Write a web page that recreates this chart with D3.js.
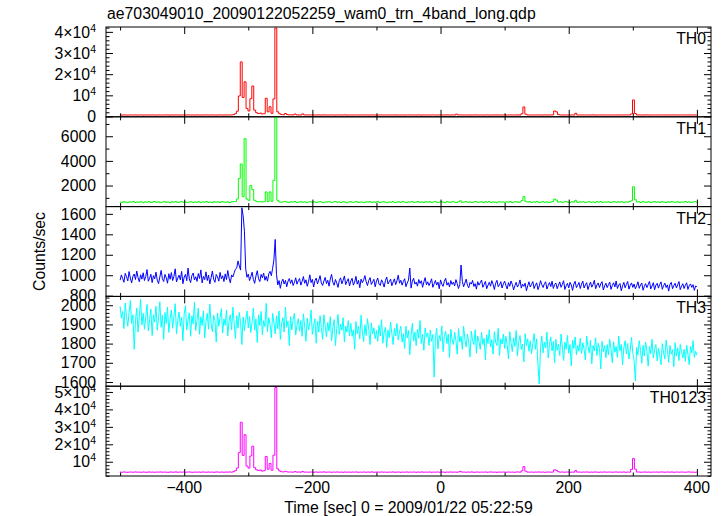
<!DOCTYPE html>
<html><head><meta charset="utf-8">
<script src="https://cdn.jsdelivr.net/npm/d3@7"></script>
<style>
body{margin:0;background:#fff}
text{font-family:"Liberation Sans",Arial,Helvetica,sans-serif;font-size:15.8px;fill:#000}
</style>
</head><body>
<svg id="chart" width="723" height="516"></svg>
<script>
// ---------------- DATA ----------------
const TITLE = "ae703049010_20090122052259_wam0_trn_4band_long.qdp";
const X_LABEL = "Time [sec] 0 = 2009/01/22 05:22:59";
const Y_LABEL = "Counts/sec";
const PANEL_NAMES = ["TH0", "TH1", "TH2", "TH3", "TH0123"];
const TIME_START = -500;     // first bin time (s)
const SPIKY_BIN = 3;         // bin width (s) of TH0, TH1, TH0123 arrays
const NOISE_BIN = 2;         // bin width (s) of TH2, TH3 arrays
const X_DOMAIN = [-522, 422];
const X_MAJOR = [-400, -200, 0, 200, 400];
const X_MINOR_STEP = 100;

const th0 = [
720,680,745,700,665,730,710,690,755,675,705,740,660,715,695,735,680,725,700,670,
740,695,715,680,760,705,670,725,690,745,710,665,730,700,685,750,720,690,710,675,
735,700,680,725,695,760,710,685,740,700,670,720,745,690,715,680,730,705,760,850,
1300,2500,9700,25800,9000,16400,3800,2600,8400,14400,3000,1800,1400,1600,1200,1300,8600,2200,4600,1500,
8300,41800,2200,1300,950,820,1400,900,740,800,720,1150,760,700,735,1200,720,760,700,745,
700,725,690,740,710,680,755,700,720,690,735,705,670,725,745,690,710,760,685,720,
705,690,740,715,680,730,700,750,695,720,685,740,710,675,725,700,745,690,715,730,
690,720,705,745,680,715,700,735,670,725,710,760,695,720,690,740,705,680,730,700,
725,690,710,750,700,680,735,705,720,695,745,715,690,730,700,1100,720,760,690,715,
700,740,685,720,710,755,690,705,730,680,715,745,700,690,725,710,740,685,720,700,
730,695,715,750,690,720,705,740,680,1300,4500,1100,720,700,745,690,715,735,700,725,
690,740,710,700,725,760,2600,2200,900,715,690,745,705,720,680,735,700,1500,720,710,
745,700,715,690,730,705,760,685,720,700,740,710,695,725,705,690,745,715,700,730,
700,725,690,740,710,720,1200,7800,1400,705,740,690,720,700,755,715,690,730,705,725,
710,690,745,700,720,735,695,715,750,700,685,730,710,740,695,720,705,690,735,715,
700];

const th1 = [
660,630,690,645,610,675,655,700,620,665,640,685,605,670,650,695,625,660,710,640,
675,615,655,690,635,665,600,680,650,705,625,660,690,640,670,615,655,685,630,665,
645,690,620,670,655,700,630,660,615,685,650,675,625,695,660,640,680,610,665,700,
700,900,2560,3750,1100,5800,900,800,2000,1670,800,720,680,700,660,690,1480,700,1480,720,
2400,7560,800,660,640,690,700,650,620,680,660,700,630,655,690,640,675,615,665,690,
640,680,620,665,700,645,610,675,655,690,630,660,705,640,670,620,685,650,600,665,
690,635,660,700,625,670,645,610,680,655,695,630,665,640,700,620,660,685,645,610,
670,645,695,620,660,680,635,705,650,615,675,660,690,630,655,700,640,670,625,685,
650,690,630,665,700,620,655,680,645,610,690,660,635,700,650,625,675,760,640,665,
695,640,670,625,660,705,635,655,690,620,680,650,700,630,665,645,610,685,655,670,
630,675,650,700,620,665,690,640,660,780,1100,720,655,690,630,670,645,700,615,660,
685,640,670,625,660,700,900,820,650,690,635,665,705,640,620,680,655,800,630,670,
650,695,625,660,685,640,670,610,690,655,700,630,665,645,680,620,660,700,640,675,
655,690,630,670,645,700,760,1900,850,660,680,625,695,650,640,685,620,665,700,645,
670,630,690,655,620,680,645,700,660,635,690,615,665,650,700,640,675,625,660,690,
650];

const th2 = [
952,1003,968,931,1018,985,944,1036,972,925,990,1012,958,1041,976,936,1005,962,1024,948,
987,1055,941,970,1010,928,996,965,1030,952,918,983,1047,966,939,1008,975,922,1015,960,
1026,948,990,1063,935,972,1001,955,1038,917,982,1009,946,1070,963,928,997,1021,954,985,
940,1016,968,1052,925,989,957,1033,948,1002,915,976,1041,960,931,1007,984,942,1028,966,
995,938,1013,957,1046,972,926,1003,983,1024,1058,1072,1140,1090,1050,1660,1580,1430,1060,980,
1012,947,985,1030,958,921,993,1044,966,938,1008,975,1020,951,989,942,1015,1038,996,1068,
1150,1350,1010,905,948,872,935,962,914,950,887,941,968,920,955,899,930,975,912,946,
968,903,940,987,921,955,892,937,1004,928,960,885,947,972,915,952,996,924,900,943,
979,918,951,893,964,1008,930,902,958,925,881,947,974,916,951,993,908,940,966,895,
944,970,903,932,989,913,950,878,962,927,955,996,936,899,948,977,910,935,960,887,
942,972,913,900,955,926,884,947,983,915,938,962,897,933,965,908,946,1001,922,951,
903,940,966,888,924,952,1070,874,942,970,913,932,893,958,920,946,882,934,977,906,
936,899,927,965,882,916,949,904,932,868,954,913,891,942,970,903,928,886,948,910,
932,896,957,918,870,909,1100,940,887,924,962,901,878,930,913,950,890,918,864,937,
903,927,953,882,910,940,868,901,931,893,947,912,860,922,950,888,906,937,875,916,
942,900,866,928,892,944,910,856,898,931,884,909,954,874,913,891,922,848,897,936,
885,911,938,870,902,926,859,894,947,908,880,917,936,865,899,928,889,942,871,910,
924,868,903,935,882,910,946,861,897,921,876,930,905,852,914,940,879,902,929,870,
913,942,875,906,927,860,898,934,883,910,951,868,904,925,880,917,937,856,895,922,
879,908,933,862,900,926,885,944,870,903,919,848,896,930,877,911,939,864,902,925,
881,914,867,898,936,872,905,924,853,892,918,879,909,940,866,895,927,858,903,921,
874,910,935,862,897,923,880,906,845,912,930,868,899,921,876,905,938,859,893,917,
870,902,926,861,898,915,881,908,852,895,888];

const th3 = [
1995,1932,1968,1878,2012,1940,1890,1962,2025,1905,1950,1770,1918,1985,1860,1942,2030,1897,1958,1875,
1938,2004,1866,1925,1980,1842,1950,1912,1995,1870,1935,2018,1885,1948,1822,1962,1905,1990,1858,1930,
1975,1880,1942,2008,1852,1920,1965,1890,1938,1815,1955,1998,1872,1925,1960,1838,1945,1902,2015,1868,
1922,1985,1848,1940,1895,1970,1830,1915,1958,1875,2005,1902,1862,1948,1920,1808,1960,1890,1935,1982,
1855,1928,1896,1975,1840,1918,1950,1872,1990,1905,1826,1945,1880,1962,1910,1795,1938,1868,1925,1970,
1882,1942,1858,1915,1985,1870,1928,1805,1950,1895,1968,1845,1920,1888,2010,1862,1935,1900,1830,1958,
1912,1850,1945,1878,1970,1822,1905,1935,1860,1990,1885,1918,1790,1940,1872,1925,1958,1845,1898,1930,
1865,1920,1838,1955,1890,1812,1932,1870,1905,1975,1848,1895,1930,1802,1918,1860,1945,1885,1822,1950,
1892,1835,1910,1865,1940,1815,1885,1925,1790,1878,1952,1848,1902,1870,1935,1808,1890,1860,1920,1842,
1905,1838,1872,1770,1915,1852,1890,1825,1948,1865,1810,1898,1842,1930,1875,1795,1908,1850,1882,1825,
1868,1812,1895,1840,1925,1802,1860,1885,1780,1870,1832,1912,1855,1795,1880,1840,1905,1818,1862,1890,
1808,1852,1775,1890,1830,1868,1742,1845,1905,1815,1860,1790,1875,1828,1920,1800,1848,1765,1882,1835,
1855,1790,1870,1812,1848,1625,1830,1880,1772,1842,1815,1892,1758,1838,1865,1800,1850,1728,1875,1820,
1795,1860,1815,1745,1878,1808,1838,1770,1890,1822,1782,1850,1805,1730,1865,1818,1795,1872,1750,1840,
1812,1770,1858,1795,1828,1715,1845,1800,1872,1782,1820,1745,1862,1808,1790,1880,1738,1825,1798,1850,
1775,1838,1792,1720,1862,1805,1758,1830,1785,1868,1735,1810,1842,1770,1798,1705,1852,1790,1825,1760,
1815,1748,1800,1852,1770,1825,1690,1590,1780,1840,1752,1808,1778,1860,1725,1795,1835,1762,1812,1700,
1822,1765,1798,1738,1850,1782,1712,1808,1770,1842,1750,1795,1685,1818,1775,1835,1742,1790,1760,1828,
1748,1805,1770,1715,1840,1785,1752,1818,1695,1790,1762,1830,1738,1802,1775,1668,1812,1758,1790,1725,
1795,1742,1822,1770,1700,1810,1755,1785,1728,1840,1762,1795,1690,1778,1815,1745,1800,1720,1768,1832,
1750,1712,1605,1780,1740,1815,1765,1698,1792,1735,1808,1760,1682,1785,1748,1822,1725,1770,1795,1710,
1775,1738,1690,1800,1752,1720,1818,1765,1702,1790,1745,1768,1680,1805,1735,1778,1712,1795,1758,1725,
1770,1708,1792,1745,1690,1785,1752,1815,1728,1760,1740];

const th0123 = [
4100,3980,4150,4020,3950,4120,4060,3990,4180,4010,4070,3940,4130,4040,3970,4160,4030,4090,3960,4110,
4050,4170,3990,4080,4020,3930,4140,4060,4000,4190,3960,4100,4040,4120,3980,4070,4150,4010,3950,4090,
4030,4110,3970,4160,4050,3990,4130,4020,4080,3940,4170,4060,4000,4120,3980,4090,4040,4150,4010,4300,
4900,6400,15200,32600,13650,25500,7600,6350,13300,18900,6600,5400,4950,5250,4650,4870,13050,5730,9000,5160,
13760,52550,5900,4760,4300,4150,4500,4200,4080,4130,4020,4350,4060,4110,4000,4400,4050,4100,3990,4140,
4080,4010,4150,3970,4120,4040,4190,3990,4060,4130,3950,4100,4020,4170,4000,4090,3960,4140,4030,4080,
3990,4120,4050,4160,3940,4070,4010,4140,3980,4100,4030,4180,3960,4060,4110,3990,4150,4020,4080,3950,
4100,4030,4170,3980,4060,4120,3950,4090,4010,4150,3990,4080,4040,4130,3970,4110,4020,4160,4000,4070,
4040,4130,3960,4090,4020,4150,3990,4070,4110,3940,4080,4030,4160,4000,4100,3970,4120,4500,4050,4090,
3980,4110,4040,4170,3950,4060,4130,4000,4090,4020,4140,3970,4080,4150,4010,4070,3940,4120,4030,4100,
4060,3990,4140,4020,4100,3960,4080,4150,4010,4800,7200,4600,4070,4000,4130,3980,4090,4040,4160,4010,
4120,3970,4060,4140,4000,4090,5400,5000,4300,4030,4150,3990,4080,4110,3960,4070,4020,4900,4040,4100,
3990,4130,4050,4160,3970,4080,4010,4140,4060,3950,4100,4030,4170,4000,4090,4120,3980,4060,4140,4020,
4080,4010,4150,3960,4100,4040,5600,11800,5800,4070,4120,3990,4060,4140,4020,4090,3970,4110,4050,4130,
4000,4090,4160,3980,4070,4120,4030,4150,3960,4080,4110,4010,4140,4050,3990,4100,4170,4020,4060,3970,
4080];

// y-axis tick values per panel
const th0YTicks = [0, 10000, 20000, 30000, 40000];
const th1YTicks = [2000, 4000, 6000];
const th2YTicks = [800, 1000, 1200, 1400, 1600];
const th3YTicks = [1600, 1700, 1800, 1900, 2000];
const th0123YTicks = [10000, 20000, 30000, 40000, 50000];

// ---------------- LAYOUT ----------------
const L = 106, R = 711, TOP = 27, BOT = 476;
const PH = (BOT - TOP) / 5;
const svg = d3.select("#chart");
const x = d3.scaleLinear().domain(X_DOMAIN).range([L, R]);

const panels = [
  {name: PANEL_NAMES[0], values: th0, bin: SPIKY_BIN, step: true, color: "#ff0000", domain: [-150, 42300], ticks: th0YTicks, minor: 2000, sci: true},
  {name: PANEL_NAMES[1], values: th1, bin: SPIKY_BIN, step: true, color: "#00ff00", domain: [290, 7580], ticks: th1YTicks, minor: 1000, sci: false},
  {name: PANEL_NAMES[2], values: th2, bin: NOISE_BIN, step: false, color: "#0000ff", domain: [793, 1671], ticks: th2YTicks, minor: 100, sci: false},
  {name: PANEL_NAMES[3], values: th3, bin: NOISE_BIN, step: false, color: "#00ffff", domain: [1578, 2046], ticks: th3YTicks, minor: 20, sci: false},
  {name: PANEL_NAMES[4], values: th0123, bin: SPIKY_BIN, step: true, color: "#ff00ff", domain: [1830, 53300], ticks: th0123YTicks, minor: 2000, sci: true}
];

function minorRange(d0, d1, step, major) {
  const out = [];
  const lo = Math.ceil(Math.min(d0, d1) / step), hi = Math.floor(Math.max(d0, d1) / step);
  for (let k = lo; k <= hi; k++) {
    const v = +(k * step).toFixed(6);
    if (!major.includes(v)) out.push(v);
  }
  return out;
}

function drawTicks(g, axisFn, scale, values, size, transform) {
  const a = axisFn(scale).tickValues(values).tickSize(-size).tickFormat("");
  const sel = g.append("g").attr("transform", transform).call(a);
  sel.select(".domain").remove();
  sel.selectAll("text").remove();
  sel.selectAll("line").attr("stroke", "#000").attr("stroke-width", 1);
}

const xMinor = minorRange(X_DOMAIN[0], X_DOMAIN[1], X_MINOR_STEP, X_MAJOR);
const MAJ = 7, MIN = 3.5;

panels.forEach((p, k) => {
  const y0 = TOP + k * PH, y1 = y0 + PH;
  const y = d3.scaleLinear().domain(p.domain).range([y1, y0]);
  const g = svg.append("g");
  const cid = "clip" + k;
  svg.append("clipPath").attr("id", cid).append("rect")
    .attr("x", L).attr("y", y0).attr("width", R - L).attr("height", PH);

  const line = d3.line()
    .curve(p.step ? d3.curveStep : d3.curveLinear)
    .x((d, i) => x(TIME_START + i * p.bin))
    .y(d => y(d));
  g.append("path").attr("d", line(p.values))
    .attr("fill", "none").attr("stroke", p.color).attr("stroke-width", 1)
    .attr("clip-path", `url(#${cid})`);

  // frame
  g.append("rect").attr("x", L).attr("y", y0).attr("width", R - L).attr("height", PH)
    .attr("fill", "none").attr("stroke", "#000").attr("stroke-width", 1);

  // x ticks top and bottom
  drawTicks(g, d3.axisTop, x, X_MAJOR, MAJ, `translate(0,${y0})`);
  drawTicks(g, d3.axisTop, x, xMinor, MIN, `translate(0,${y0})`);
  drawTicks(g, d3.axisBottom, x, X_MAJOR, MAJ, `translate(0,${y1})`);
  drawTicks(g, d3.axisBottom, x, xMinor, MIN, `translate(0,${y1})`);

  // y ticks left and right
  const yMinor = minorRange(p.domain[0], p.domain[1], p.minor, p.ticks);
  drawTicks(g, d3.axisLeft, y, p.ticks, MAJ, `translate(${L},0)`);
  drawTicks(g, d3.axisLeft, y, yMinor, MIN, `translate(${L},0)`);
  drawTicks(g, d3.axisRight, y, p.ticks, MAJ, `translate(${R},0)`);
  drawTicks(g, d3.axisRight, y, yMinor, MIN, `translate(${R},0)`);

  // y tick labels
  p.ticks.forEach(v => {
    const t = g.append("text").attr("x", 96).attr("y", y(v)).attr("dy", "0.36em")
      .attr("text-anchor", "end");
    if (p.sci && v !== 0) {
      const m = v / 10000;
      t.append("tspan").text(m === 1 ? "10" : m + "\u00d710");
      t.append("tspan").attr("dy", -6).style("font-size", "10.5px").text("4");
    } else {
      t.text(v);
    }
  });

  // panel name
  g.append("text").attr("x", 706).attr("y", y0 + 17).attr("text-anchor", "end").text(p.name);

  // x tick labels on bottom panel
  if (k === panels.length - 1) {
    X_MAJOR.forEach(v => {
      g.append("text").attr("x", x(v)).attr("y", 493).attr("text-anchor", "middle")
        .text(v < 0 ? "\u2212" + Math.abs(v) : v);
    });
  }
});

svg.append("text").attr("x", 107).attr("y", 19).text(TITLE);
svg.append("text").attr("x", (L + R) / 2).attr("y", 513).attr("text-anchor", "middle").text(X_LABEL);
svg.append("text").attr("transform", `translate(45,${(TOP + BOT) / 2}) rotate(-90)`)
  .attr("text-anchor", "middle").text(Y_LABEL);
</script>
</body></html>
